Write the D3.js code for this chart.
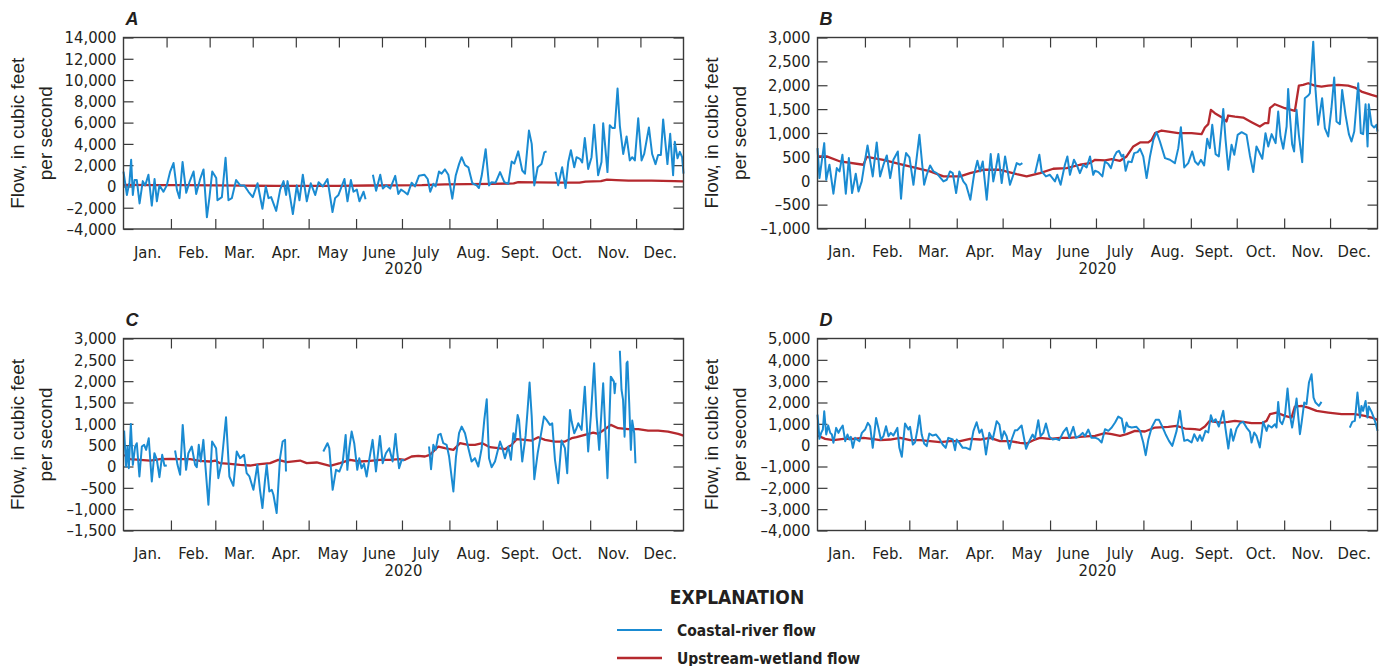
<!DOCTYPE html>
<html>
<head>
<meta charset="utf-8">
<script src="https://cdn.jsdelivr.net/npm/d3@7"></script>
<style>
  html, body { margin: 0; padding: 0; background: #ffffff; }
  svg { display: block; }
</style>
</head>
<body>
<svg id="chart" width="1389" height="666"></svg>
<script>
// ---------------- DATA (day = days since 1 Jan 2020; null = gap) ----------------
const monthLabels = ["Jan.", "Feb.", "Mar.", "Apr.", "May", "June", "July", "Aug.", "Sept.", "Oct.", "Nov.", "Dec."];
const yearLabel = "2020";
const axisTitle = ["Flow, in cubic feet", "per second"];
const seriesNames = ["Coastal-river flow", "Upstream-wetland flow"];
const legendTitle = "EXPLANATION";

const aTicks = [-4000, -2000, 0, 2000, 4000, 6000, 8000, 10000, 12000, 14000];
const bTicks = [-1000, -500, 0, 500, 1000, 1500, 2000, 2500, 3000];
const cTicks = [-1500, -1000, -500, 0, 500, 1000, 1500, 2000, 2500, 3000];
const dTicks = [-4000, -3000, -2000, -1000, 0, 1000, 2000, 3000, 4000, 5000];

// Panel A
const aCoastalDays = [0,2.2,3.9,5,6.1,7.2,8.7,10.5,12.6,14.2,16.3,18.5,20.3,21.8,23.5,26.1,28.3,30.5,32.7,34.9,36.6,38.6,41,43.1,45.8,47.5,50.1,52.3,54.5,56.2,58,60.6,61.4,64.3,66.7,68.6,70.8,73.6,76.3,78.9,81.7,84.5,87.6,90.8,93,94.8,96.5,99.8,102.4,104.6,106.3,107.2,110.7,113.3,115,117.2,119.8,122.4,125.3,127.5,130.3,133.3,136.6,138.3,140.5,144.4,146.4,148.6,150.3,152.5,154.2,156.9,158.2,160,163,165.1,167.8,169.5,171.7,174.3,177.6,179.6,181.4,183.5,185.7,188.3,190.5,193.1,196.6,198.8,200.5,202.5,204,206.2,207.9,210.1,212.3,214.9,217.1,219.3,221,223.2,225.4,228,230.8,232.3,234.1,236.7,238.9,240.6,243.2,246.1,248.9,251.5,253.7,255.4,258,260.6,262.4,265,266.8,268.5,270.7,273.2,275,276.5,279,282.4,284.1,286.7,288.9,290.7,292.4,294.6,296.1,298.3,299.8,301.5,303.7,305.9,307.6,310.2,312.4,313.5,316.3,317.8,319.4,321.1,322.9,324.4,326.6,328.8,330.9,332.5,334.2,336.4,338.6,340.3,343.4,345.5,347.7,349.4,351.2,352.7,355.5,357.3,359.2,360.3,362.1,363.6,365.1,366];
const aCoastalFlow = [1400,-800,400,2500,-800,600,600,-1600,500,100,1100,-1800,700,-1400,100,-500,100,1400,2200,-300,-1100,2300,-600,400,1400,-700,700,1600,-2900,-1000,1400,800,-1300,-1000,2700,-1300,-1100,600,100,100,-500,-1000,300,-2100,0,-1100,-1000,-2300,-300,500,-800,500,-2600,100,-1300,1100,-1400,300,-800,400,0,700,-2400,-1100,-800,700,-1400,600,-500,-300,-1400,-500,-1200,null,1100,-400,1100,-200,100,-200,1000,-700,-300,-500,-750,350,0,1000,1100,700,-500,250,0,1400,1200,1600,1100,-1150,1000,2100,2750,2000,1800,300,100,-150,1000,3500,100,400,350,1350,400,250,2350,2150,3300,1500,1200,5250,4000,100,1800,2100,3200,3300,null,1350,100,1800,-150,2300,3400,1800,2750,2600,2250,4550,1650,2750,5800,1050,2300,5950,1350,5750,5500,5500,9200,5700,3050,4700,2450,2750,2450,6400,2450,3050,5550,3050,2100,2950,2950,6300,2100,4950,1050,4200,2650,3250,2750,1200];
const aWetlandDays = [0,20,40,60,80,100,120,140,160,178,195,210,225,240,255,258,270,285,298,302,312,316,322,330,345,360,366];
const aWetlandFlow = [150,130,120,100,70,50,50,60,90,100,120,200,220,250,280,400,380,350,350,450,500,650,600,550,550,500,480];

// Panel B
const bCoastalDays = [0,1.3,4.4,5.7,7.8,10.4,12.6,14.4,16.3,18.5,20.5,22.6,25,26.8,28.9,31.1,32.7,36.1,38.7,40.9,43.1,45.3,47.5,49.6,52.5,54.6,56.2,57.9,60.1,62.7,66.6,69.7,71.4,73.6,75.8,77.9,82.3,84.5,86.6,88.4,90.6,92.7,95.3,97.1,99.9,102.3,104.5,106.2,108,110.6,113.2,114.9,116.7,118.2,120.4,122.6,125.8,128,130.2,132.3,133.9,138,142.2,145,146.5,149.3,151.9,155.2,156.7,158.9,161.7,163.3,165,167.6,169.8,171.5,173.7,175.9,178.1,180.2,181.4,183.6,186.2,187.9,190.1,191.8,194,195.5,197,198.8,199.9,201.4,203.1,205.3,207,209.2,210.8,212.9,215.1,217.3,219.5,221.6,223.8,227.1,230.3,233.6,235.8,237.5,239.7,242.3,244.9,246.7,248.8,250.6,252.7,254.7,256.4,258,260.2,262.3,265.2,266.7,268.5,270.6,272.4,274.6,277.2,280.4,282.6,284.8,286.9,288.5,290.7,292.8,294.6,296.8,299.4,301.1,302.6,304.4,306.6,307.6,308.7,310.2,311.5,313.1,314.6,316.8,318.5,320.7,321.8,324,325.5,327.2,329.8,331.6,333.8,335.9,337.7,339.2,341.4,342.9,345.1,347.3,349,350.8,353.4,355.1,356.6,358.2,359.5,360.3,362.1,363.8,365.3,366];
const bCoastalFlow = [683,56,788,21,335,-272,265,195,544,-272,474,-258,146,-223,-14,439,739,91,802,91,335,530,56,439,613,-376,265,579,488,-84,962,-84,125,321,195,160,-14,21,195,160,-258,195,-14,-84,-397,125,418,195,404,-397,558,-14,279,558,-49,509,-84,125,369,335,369,null,160,544,195,91,125,-14,125,-84,335,509,125,439,300,160,335,279,509,125,209,181,91,404,349,265,509,599,627,509,544,209,404,390,579,599,669,509,56,509,857,1018,822,474,439,369,683,1122,279,369,613,404,335,439,321,878,683,1171,558,509,1505,857,230,753,544,962,1018,962,530,181,718,613,460,997,718,976,788,1450,927,669,1136,1924,1380,767,613,1485,962,390,1729,1784,1833,2913,1903,1171,1729,1101,927,1519,2161,1241,1185,1903,1380,976,822,1031,2042,997,976,1603,718,1603,1171,1115,1171,1031];
const bWetlandDays = [0,6,14.8,30,32.2,43,54,64.9,73.6,82.3,93.2,99.7,108.4,119.3,130.2,136.7,145.4,154.1,162.8,171.5,178,181.4,187.9,192.3,197.7,202,206.4,210.8,216.2,218.4,220.6,224.9,235.8,244.5,251,253.2,255.4,257.1,259.7,265.2,267.3,268.4,272.8,278.2,283.7,289.1,292.4,294.6,295.7,298.9,305.5,312,314.6,317.4,320.7,325,329.4,333.8,340.3,346.8,351.2,355.5,362.1,366];
const bWetlandFlow = [509,509,404,335,502,439,349,265,195,91,91,160,230,230,139,91,160,251,265,335,369,439,425,453,418,509,718,802,802,857,997,1052,997,997,976,1115,1185,1485,1415,1310,1241,1366,1345,1324,1227,1136,1206,1206,1519,1603,1519,1464,1993,2007,2042,1993,1972,1993,2007,1993,1952,1868,1798,1764];

// Panel C
const cCoastalDays = [0.4,1.7,2.6,3.5,4.8,6.1,7.6,8.7,10.4,12,13.5,14.8,16.5,18.5,20.2,21.8,23.5,25.3,26.8,28.3,31,33.7,35.3,37,38.7,40.9,42.4,44.6,46.8,47.9,49.2,50.5,52.2,53.3,55.5,57,57.9,60.5,62,64.2,67,69.2,71.8,74,76.2,78.8,80.5,82.3,84.9,87.5,89.2,90.8,92.5,93.6,95.3,96.9,98,100.1,102.3,104,105.6,106.2,118,130.6,133.3,134.5,136.7,138.9,141.1,143.2,145.2,146.3,147.6,149.1,150.8,152.8,154.1,155.6,157.2,158.9,160.6,162.8,165,167.6,169.4,171.5,173.7,175.9,177.8,178.5,180.1,181.8,183.5,190,199.7,201,202.5,204,205.8,207.3,209,211.2,212.8,215.6,217.3,219.3,221,223.2,225.4,227.5,229.7,231.9,234.1,235.8,237.4,238.9,240.6,242.8,246.1,247.6,249.3,251.5,253.2,254.8,255.9,257.6,258.5,260.6,262.8,264.1,265.4,266.8,268.5,270.7,272.6,274.8,276.5,278.7,280.2,282,284.1,286.3,288.5,290,291.8,292.9,294.6,296.1,297.2,299.4,301.5,303.7,305.5,307.6,309.2,310.9,313.5,316.3,318.5,320.5,321,321.6,323,324.4,325.5,326.5,327.5,328.8,329.4,330.5,331.6,332.5,333.8,334.6];
const cCoastalFlow = [842,0,468,-39,998,39,468,546,-234,468,507,390,663,-351,312,156,-250,273,16,23,null,374,39,-195,975,-78,312,468,39,-16,507,117,624,117,-897,0,585,429,-273,117,1154,-234,-452,351,195,273,-156,-234,-546,39,-546,-975,-312,39,-585,-546,-663,-1092,195,585,624,-117,null,351,546,429,-546,-78,-117,78,741,-78,429,819,546,-78,195,-39,62,-234,156,624,-117,717,78,312,429,117,764,468,-39,156,140,null,468,-62,507,390,741,764,546,507,234,-585,234,780,936,780,429,117,195,0,429,1092,1576,195,-16,117,585,429,195,468,156,780,624,1209,1092,117,717,1326,1966,1170,-296,312,702,1170,1092,975,1014,156,-390,608,429,-156,1326,1053,780,897,1014,858,1872,351,1209,2418,1170,390,1950,-273,2106,1989,1716,1966,null,2714,1794,1560,700,2418,2457,1500,390,1076,780,78];
const cWetlandDays = [0.4,4.4,10.9,17.4,23.9,30.5,37,43.5,50.1,56.6,59.9,63.1,69.7,76.2,82.7,89.2,95.8,101.2,106.7,115.4,119.7,126.3,135,141.5,148,154.5,161.1,167.6,174.1,180.2,183.9,188.3,192.6,197,200.2,205.8,210.1,215.6,219.9,225.4,229.7,234.5,239.5,244.9,249.3,253.7,256.9,262.4,266.8,271.1,275.5,282,288.5,292.9,296.1,301.5,307,310.2,314.6,318.5,323.3,329.8,336.4,342.9,349.4,355.9,362.5,366];
const cWetlandFlow = [273,172,156,140,172,179,172,172,133,117,140,78,62,39,23,55,78,156,101,140,78,94,16,78,156,117,133,156,156,172,156,234,250,234,273,468,429,390,546,507,507,546,452,429,406,507,640,624,608,686,624,585,585,663,686,741,796,764,874,975,897,874,874,842,842,819,764,725];

// Panel D
const dCoastalDays = [0,1.3,2.4,3.5,4.4,5.7,7,8.3,9.4,10.4,12.2,13.7,14.8,16.5,18.1,19.6,20.9,21.8,23.1,24.6,25.7,27.4,29,31.1,32.9,34.4,36.1,38.3,39.8,41.4,43.1,44.8,46.4,47.9,49.6,50.7,52.2,53.5,55.1,57.2,59.4,60.5,62.3,63.8,65.3,66.6,68.1,69.7,71.4,73.1,75.3,77.5,79.7,81.8,83.8,85.5,88.4,89.9,91,92.7,94.9,97.1,99.7,101.9,104,105.8,107.3,108.8,110.1,112.3,114.5,117.1,118.9,120.4,121.9,123.6,125.4,126.9,129.1,130.6,133.4,136.3,138.4,140.6,142.1,144.3,145.8,147.6,149.3,151.5,153.7,155.9,158,160.6,162.8,164.6,167.2,168.9,171.5,173.3,174.8,177,179.1,181.4,183.6,185.7,187.9,190.1,192.3,194.5,196.6,198.8,200.5,202,203.1,205.3,208.5,210.8,212.9,214.5,216.2,218.4,221,223.2,224.9,227.5,229.7,231.9,234.7,236.9,238.4,239.7,241.9,244.5,246.2,248.4,249.9,251.4,253.6,255.4,257.1,258.6,260.2,262.3,265.2,266.7,268.5,270.2,271.7,273.9,276.1,278.2,280.4,282.6,283.7,285.4,286.9,289.1,291.3,293.5,294.6,296.8,299,300,301.1,302.2,303.7,305.5,307.2,308.7,310.2,311.5,313.1,315.3,316.4,318.1,319.6,321.2,322.9,324.2,325.5,327.7,329.4,338,347.9,349.5,351.2,352.9,354.5,355.5,356.6,358.2,359.5,360.3,362.1,363.8,365.3,366];
const dCoastalFlow = [1435,296,577,733,1591,499,920,577,499,109,811,577,733,920,187,499,265,390,-125,343,265,187,577,733,1045,889,-125,1279,811,265,421,889,421,577,452,608,811,-125,-546,1014,733,858,31,140,733,1388,499,78,-47,546,452,499,296,31,-125,343,265,-234,265,109,-125,-125,-203,655,1076,577,733,265,-437,577,265,1123,967,265,655,421,-172,265,702,702,920,-172,187,499,296,1170,421,577,1014,390,265,296,234,608,811,343,858,343,452,577,421,733,343,350,281,125,749,671,827,1061,1342,1248,593,1061,874,827,858,671,125,-468,250,827,1186,1186,936,515,203,-31,671,1607,749,203,250,125,515,203,468,203,671,593,1404,1092,1217,874,1607,749,-156,749,203,780,1030,1092,827,624,125,593,437,-109,1092,671,936,827,983,827,2028,1139,983,1373,2652,1451,827,1373,2184,515,1061,1997,1919,2933,3323,2231,1997,1841,2028,null,827,1092,1139,2465,1295,1841,1607,2075,1295,1810,1560,1248,905,671];
const dWetlandDays = [0,5,10.4,17,23.5,30,35.5,40.9,47.5,54,60.5,67,73.6,80.1,86.6,93.2,99.7,106.2,112.8,119.3,125.8,132.3,136.7,141.1,145.4,151.9,158.5,165,171.5,178.1,181.4,187.9,192.3,197.7,202,207.5,214,220.6,229.3,234.7,240.2,246.7,249.9,253.2,256.4,259.7,264.1,268.4,272.8,278.2,283.7,290.2,293.5,295.7,300,305.5,309.8,312,316.4,320.7,326.2,333.8,342.5,351.2,357.7,362.1,366];
const dWetlandFlow = [452,296,234,296,296,343,296,234,265,343,234,234,187,140,187,187,296,265,343,187,187,109,78,234,343,296,343,343,390,421,437,562,515,437,515,671,640,827,858,905,780,749,718,874,1139,1092,1061,1092,1139,1092,1030,1030,1139,1451,1529,1373,1295,1810,1841,1763,1607,1529,1451,1451,1373,1295,1186];

// ---------------- LAYOUT ----------------
const BLUE = "#1a8bd2";
const RED = "#b5292e";
const FRAME = "#3a3a3a";
const NARROW = "'Liberation Sans Narrow','Arial Narrow','DejaVu Sans Condensed',sans-serif";
const REGULAR = "'Liberation Sans',Arial,sans-serif";

const panels = [
  { letter: "A", left: 123.5, top: 37.5, width: 560, height: 191.5, ticks: aTicks,
    cd: aCoastalDays, cf: aCoastalFlow, wd: aWetlandDays, wf: aWetlandFlow, topPeriods: 13 },
  { letter: "B", left: 817.5, top: 37.5, width: 560, height: 191, ticks: bTicks,
    cd: bCoastalDays, cf: bCoastalFlow, wd: bWetlandDays, wf: bWetlandFlow, topPeriods: 0 },
  { letter: "C", left: 123.5, top: 338.5, width: 560, height: 192, ticks: cTicks,
    cd: cCoastalDays, cf: cCoastalFlow, wd: cWetlandDays, wf: cWetlandFlow, topPeriods: 0 },
  { letter: "D", left: 817.5, top: 338.5, width: 560, height: 192, ticks: dTicks,
    cd: dCoastalDays, cf: dCoastalFlow, wd: dWetlandDays, wf: dWetlandFlow, topPeriods: 0 }
];

const svg = d3.select("#chart");
const t0 = Date.UTC(2020, 0, 1), t1 = Date.UTC(2021, 0, 1);
const dayToDate = d => new Date(t0 + d * 864e5);
const fmt = d3.format(",");
const tickFmt = v => v < 0 ? "\u2013" + fmt(-v) : fmt(v);

const monthStarts = d3.utcMonths(new Date(Date.UTC(2020, 1, 1)), new Date(Date.UTC(2020, 11, 2)));
const allMonths = d3.utcMonths(new Date(t0), new Date(t1));
const monthMids = allMonths.map(m => new Date((+m + +d3.utcMonth.offset(m, 1)) / 2));

panels.forEach(p => {
  const g = svg.append("g").attr("transform", `translate(${p.left},${p.top})`);
  const x = d3.scaleUtc().domain([new Date(t0), new Date(t1)]).range([0, p.width]);
  const y = d3.scaleLinear().domain(d3.extent(p.ticks)).range([p.height, 0]);

  const left = g.append("g").call(d3.axisLeft(y).tickValues(p.ticks).tickSize(-10).tickPadding(7).tickFormat(tickFmt));
  const right = g.append("g").attr("transform", `translate(${p.width},0)`)
    .call(d3.axisRight(y).tickValues(p.ticks).tickSize(-10).tickFormat(""));
  const bottom = g.append("g").attr("transform", `translate(0,${p.height})`)
    .call(d3.axisBottom(x).tickValues(monthStarts).tickSize(-10).tickFormat(""));
  let topVals = monthStarts;
  if (p.topPeriods) topVals = d3.range(1, p.topPeriods).map(k => new Date(t0 + k * (t1 - t0) / p.topPeriods));
  const top = g.append("g").call(d3.axisTop(x).tickValues(topVals).tickSize(-10).tickFormat(""));
  const mlab = g.append("g").attr("transform", `translate(0,${p.height})`)
    .call(d3.axisBottom(x).tickValues(monthMids).tickSize(0).tickPadding(17)
      .tickFormat((d, i) => monthLabels[i]));

  [left, right, bottom, top, mlab].forEach(a => {
    a.select(".domain").remove();
    a.selectAll(".tick line").attr("stroke", FRAME).attr("stroke-width", 1.2);
    a.selectAll("text").attr("fill", "#231f20").style("font-family", NARROW).style("font-size", "16.5px");
  });

  g.append("text").attr("x", p.width / 2).attr("y", p.height + 45)
    .attr("text-anchor", "middle").attr("fill", "#231f20")
    .style("font-family", NARROW).style("font-size", "16.5px").text(yearLabel);

  const tt = g.append("text").attr("transform", `translate(-100,${p.height / 2}) rotate(-90)`)
    .attr("text-anchor", "middle").attr("fill", "#231f20")
    .style("font-family", REGULAR).style("font-size", "19px");
  tt.append("tspan").attr("x", 0).attr("dy", 0).text(axisTitle[0]);
  tt.append("tspan").attr("x", 0).attr("dy", 28).text(axisTitle[1]);

  g.append("text").attr("x", 2).attr("y", -13).attr("fill", "#231f20")
    .style("font-family", REGULAR).style("font-weight", "bold").style("font-style", "italic")
    .style("font-size", "18px").text(p.letter);

  const line = d3.line().defined(d => d.v !== null).x(d => x(dayToDate(d.d))).y(d => y(d.v));
  const wet = p.wd.map((d, i) => ({ d, v: p.wf[i] }));
  const coast = p.cd.map((d, i) => ({ d, v: p.cf[i] }));
  g.append("path").datum(wet).attr("d", line).attr("fill", "none").attr("stroke", RED)
    .attr("stroke-width", 2.3).attr("stroke-linejoin", "round");
  g.append("path").datum(coast).attr("d", line).attr("fill", "none").attr("stroke", BLUE)
    .attr("stroke-width", 2).attr("stroke-linejoin", "round");

  g.append("rect").attr("width", p.width).attr("height", p.height)
    .attr("fill", "none").attr("stroke", FRAME).attr("stroke-width", 1.4);
});

// legend
const lg = svg.append("g");
lg.append("text").attr("x", 737).attr("y", 604).attr("text-anchor", "middle").attr("fill", "#231f20")
  .style("font-family", NARROW).style("font-weight", "bold").style("font-size", "19px").text(legendTitle);
[[BLUE, 630, 2], [RED, 658, 2.3]].forEach((s, i) => {
  lg.append("line").attr("x1", 617).attr("x2", 662).attr("y1", s[1]).attr("y2", s[1])
    .attr("stroke", s[0]).attr("stroke-width", s[2]);
  lg.append("text").attr("x", 677).attr("y", s[1] + 5.5).attr("fill", "#231f20")
    .style("font-family", NARROW).style("font-weight", "bold").style("font-size", "15.5px").text(seriesNames[i]);
});
</script>
</body>
</html>
